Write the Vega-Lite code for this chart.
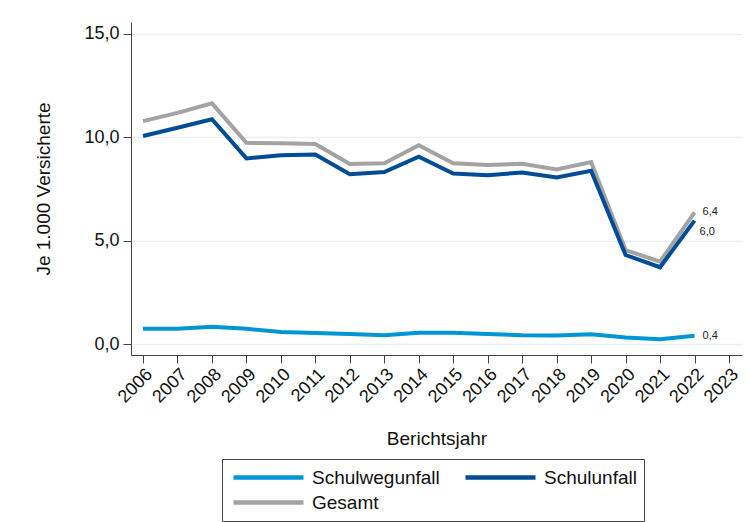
{
  "$schema": "https://vega.github.io/schema/vega-lite/v6.json",
  "width": 611,
  "height": 333,
  "autosize": "none",
  "padding": {"left": 131, "top": 22, "right": 7, "bottom": 167},
  "background": "white",
  "config": {
    "locale": {"number": {"decimal": ",", "thousands": ".", "grouping": [3], "currency": ["", " €"]}},
    "view": {"stroke": null},
    "font": "Liberation Sans",
    "axis": {
      "labelFont": "Liberation Sans",
      "titleFont": "Liberation Sans",
      "labelColor": "#111",
      "titleColor": "#111",
      "domainColor": "#444",
      "tickColor": "#444",
      "domainWidth": 1,
      "tickWidth": 1,
      "titleFontWeight": "normal"
    }
  },
  "data": {
    "values": [
      {"jahr": 2006, "art": "Gesamt", "wert": 10.77},
      {"jahr": 2007, "art": "Gesamt", "wert": 11.17},
      {"jahr": 2008, "art": "Gesamt", "wert": 11.63},
      {"jahr": 2009, "art": "Gesamt", "wert": 9.72},
      {"jahr": 2010, "art": "Gesamt", "wert": 9.70},
      {"jahr": 2011, "art": "Gesamt", "wert": 9.66},
      {"jahr": 2012, "art": "Gesamt", "wert": 8.70},
      {"jahr": 2013, "art": "Gesamt", "wert": 8.73},
      {"jahr": 2014, "art": "Gesamt", "wert": 9.61},
      {"jahr": 2015, "art": "Gesamt", "wert": 8.73},
      {"jahr": 2016, "art": "Gesamt", "wert": 8.65},
      {"jahr": 2017, "art": "Gesamt", "wert": 8.71},
      {"jahr": 2018, "art": "Gesamt", "wert": 8.44},
      {"jahr": 2019, "art": "Gesamt", "wert": 8.79},
      {"jahr": 2020, "art": "Gesamt", "wert": 4.54},
      {"jahr": 2021, "art": "Gesamt", "wert": 3.98},
      {"jahr": 2022, "art": "Gesamt", "wert": 6.36},
      {"jahr": 2006, "art": "Schulunfall", "wert": 10.05},
      {"jahr": 2007, "art": "Schulunfall", "wert": 10.45},
      {"jahr": 2008, "art": "Schulunfall", "wert": 10.86},
      {"jahr": 2009, "art": "Schulunfall", "wert": 8.97},
      {"jahr": 2010, "art": "Schulunfall", "wert": 9.12},
      {"jahr": 2011, "art": "Schulunfall", "wert": 9.16},
      {"jahr": 2012, "art": "Schulunfall", "wert": 8.20},
      {"jahr": 2013, "art": "Schulunfall", "wert": 8.31},
      {"jahr": 2014, "art": "Schulunfall", "wert": 9.05},
      {"jahr": 2015, "art": "Schulunfall", "wert": 8.24},
      {"jahr": 2016, "art": "Schulunfall", "wert": 8.16},
      {"jahr": 2017, "art": "Schulunfall", "wert": 8.29},
      {"jahr": 2018, "art": "Schulunfall", "wert": 8.05},
      {"jahr": 2019, "art": "Schulunfall", "wert": 8.37},
      {"jahr": 2020, "art": "Schulunfall", "wert": 4.30},
      {"jahr": 2021, "art": "Schulunfall", "wert": 3.71},
      {"jahr": 2022, "art": "Schulunfall", "wert": 5.96},
      {"jahr": 2006, "art": "Schulwegunfall", "wert": 0.74},
      {"jahr": 2007, "art": "Schulwegunfall", "wert": 0.74},
      {"jahr": 2008, "art": "Schulwegunfall", "wert": 0.84},
      {"jahr": 2009, "art": "Schulwegunfall", "wert": 0.74},
      {"jahr": 2010, "art": "Schulwegunfall", "wert": 0.58},
      {"jahr": 2011, "art": "Schulwegunfall", "wert": 0.53},
      {"jahr": 2012, "art": "Schulwegunfall", "wert": 0.49},
      {"jahr": 2013, "art": "Schulwegunfall", "wert": 0.43},
      {"jahr": 2014, "art": "Schulwegunfall", "wert": 0.55},
      {"jahr": 2015, "art": "Schulwegunfall", "wert": 0.55},
      {"jahr": 2016, "art": "Schulwegunfall", "wert": 0.49},
      {"jahr": 2017, "art": "Schulwegunfall", "wert": 0.42},
      {"jahr": 2018, "art": "Schulwegunfall", "wert": 0.41},
      {"jahr": 2019, "art": "Schulwegunfall", "wert": 0.47},
      {"jahr": 2020, "art": "Schulwegunfall", "wert": 0.31},
      {"jahr": 2021, "art": "Schulwegunfall", "wert": 0.23},
      {"jahr": 2022, "art": "Schulwegunfall", "wert": 0.40}
    ]
  },
  "encoding": {
    "x": {
      "field": "jahr",
      "type": "quantitative",
      "scale": {"domain": [2005.652, 2023.377], "nice": false, "zero": false},
      "axis": {
        "values": [2006, 2007, 2008, 2009, 2010, 2011, 2012, 2013, 2014, 2015, 2016, 2017, 2018, 2019, 2020, 2021, 2022, 2023],
        "format": "d",
        "labelAngle": -45,
        "labelFontSize": 18,
        "labelPadding": 2,
        "tickSize": 8,
        "grid": false,
        "labelOverlap": false,
        "title": "Berichtsjahr",
        "titleFontSize": 19,
        "titlePadding": 23
      }
    },
    "y": {
      "field": "wert",
      "type": "quantitative",
      "scale": {"domain": [-0.53, 15.56], "nice": false, "zero": false},
      "axis": {
        "values": [0, 5, 10, 15],
        "labelExpr": "replace(format(datum.value, '.1f'), '.', ',')",
        "labelFontSize": 18,
        "labelPadding": 4,
        "tickSize": 8,
        "grid": true,
        "gridColor": "#e8f0f3",
        "gridWidth": 1.5,
        "title": "Je 1.000 Versicherte",
        "titleFontSize": 19,
        "titlePadding": 30
      }
    }
  },
  "layer": [
    {
      "mark": {"type": "line", "strokeWidth": 4, "clip": false},
      "encoding": {
        "color": {
          "field": "art",
          "type": "nominal",
          "sort": null,
          "scale": {
            "domain": ["Schulwegunfall", "Schulunfall", "Gesamt"],
            "range": ["#0096d6", "#004c97", "#a3a3a3"]
          },
          "legend": {
            "orient": "none",
            "legendX": 91,
            "legendY": 437,
            "title": null,
            "columns": 2,
            "direction": "horizontal",
            "symbolType": "stroke",
            "symbolSize": 4900,
            "symbolStrokeWidth": 4.5,
            "clipHeight": 23,
            "labelFontSize": 19,
            "labelFont": "Liberation Sans",
            "labelColor": "#111",
            "labelOffset": 6,
            "labelLimit": 300,
            "symbolOffset": 2,
            "columnPadding": 21,
            "rowPadding": 2,
            "padding": 7,
            "strokeColor": "#444"
          }
        }
      }
    },
    {
      "transform": [{"filter": "datum.jahr == 2022 && datum.art != 'Schulunfall'"}],
      "mark": {"type": "text", "align": "left", "baseline": "middle", "dx": 8, "fontSize": 11, "color": "#222", "font": "Liberation Sans"},
      "encoding": {"text": {"field": "wert", "type": "quantitative", "format": ".1f"}}
    },
    {
      "transform": [{"filter": "datum.jahr == 2022 && datum.art == 'Schulunfall'"}],
      "mark": {"type": "text", "align": "left", "baseline": "middle", "dx": 5, "dy": 11, "fontSize": 11, "color": "#222", "font": "Liberation Sans"},
      "encoding": {"text": {"field": "wert", "type": "quantitative", "format": ".1f"}}
    }
  ]
}
